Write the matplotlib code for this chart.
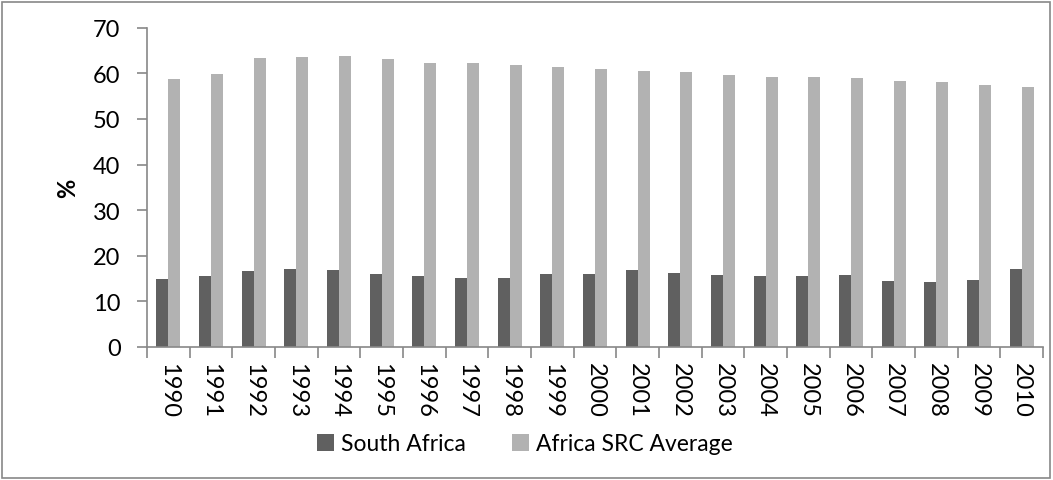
import matplotlib
matplotlib.use("Agg")
import matplotlib.pyplot as plt
import numpy as np
from matplotlib.patches import Rectangle

plt.rcParams['font.family'] = ['Lato', 'DejaVu Sans']

years = [str(y) for y in range(1990, 2011)]
south_africa = [15.0, 15.5, 16.6, 17.0, 16.8, 16.1, 15.5, 15.1, 15.1, 16.0,
                16.1, 16.8, 16.2, 15.7, 15.5, 15.6, 15.8, 14.4, 14.3, 14.7, 17.1]
africa_src_avg = [58.8, 59.8, 63.3, 63.5, 63.7, 63.2, 62.2, 62.3, 61.9, 61.3,
                  61.0, 60.5, 60.2, 59.7, 59.2, 59.1, 58.9, 58.3, 58.0, 57.5, 57.0]

fig = plt.figure(figsize=(10.53, 4.81), dpi=100)
ax = fig.add_axes([147 / 1053, 1 - 348 / 481, 896 / 1053, (348 - 28.7) / 481])

x = np.arange(len(years))
w = 0.28
ax.bar(x - w / 2, south_africa, w, color='#606060', label='South Africa')
ax.bar(x + w / 2, africa_src_avg, w, color='#b2b2b2', label='Africa SRC Average')

ax.set_xlim(-0.5, len(years) - 0.5)
ax.set_ylim(0, 70)
ax.set_yticks(range(0, 71, 10))
ax.tick_params(axis='y', labelsize=17, length=7, color='#888888', width=1.2, pad=12)

ax.set_xticks(np.arange(-0.5, len(years), 1.0))
ax.set_xticklabels([])
ax.tick_params(axis='x', which='major', length=8, color='#888888', width=1.2)
ax.set_xticks(x, minor=True)
ax.set_xticklabels(years, minor=True, rotation=270, fontsize=17)
ax.tick_params(axis='x', which='minor', length=0, pad=11)

for s in ['top', 'right']:
    ax.spines[s].set_visible(False)
for s in ['left', 'bottom']:
    ax.spines[s].set_color('#888888')
    ax.spines[s].set_linewidth(1.2)

ax.set_ylabel('%', fontsize=17, fontweight='bold', labelpad=10)

fig.legend(loc='center', bbox_to_anchor=(525 / 1053, 1 - 445 / 481), ncol=2,
           frameon=False, fontsize=16.5, handlelength=0.75, handleheight=0.75,
           handletextpad=0.3, columnspacing=2.0)

fig.patches.append(Rectangle((2 / 1053, 2 / 481), 1048 / 1053, 476 / 481,
                             transform=fig.transFigure, fill=False,
                             edgecolor='#888888', linewidth=1.2))

fig.savefig('out.png', dpi=100)
